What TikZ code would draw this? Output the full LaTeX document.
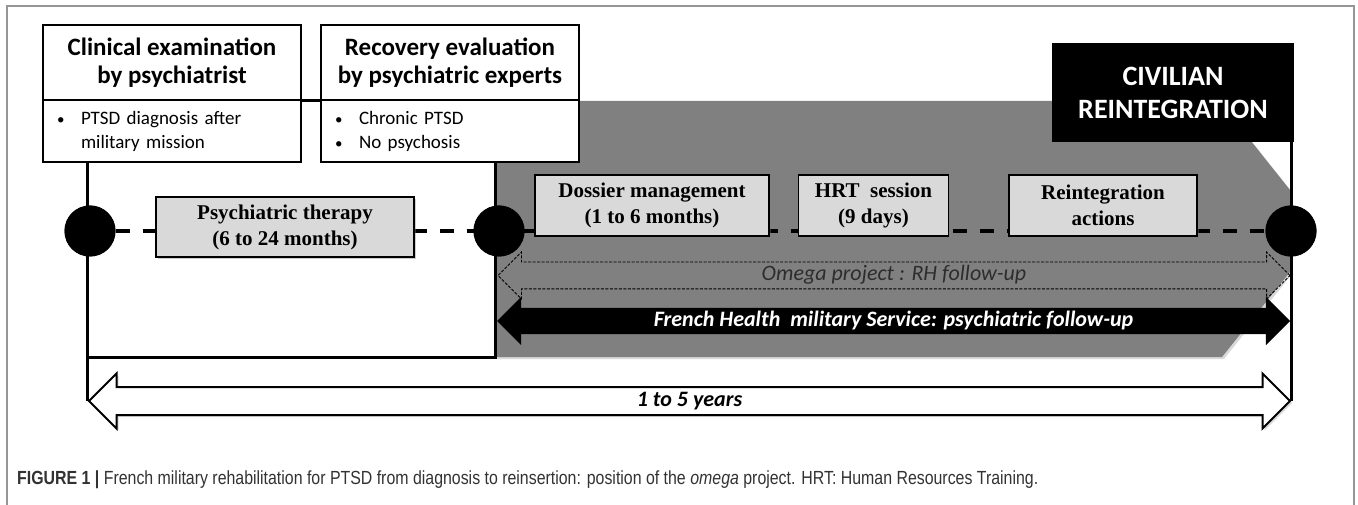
\documentclass[tikz,border=0pt]{standalone}
\usepackage{fontspec}
\usepackage{graphicx}
\setmainfont{Liberation Serif}
\newfontfamily\carlito{Carlito}
\newfontfamily\helv{Liberation Sans}
\usetikzlibrary{positioning,shapes.arrows,shadows}
\definecolor{framegray}{RGB}{150,150,150}
\definecolor{bandgray}{RGB}{128,128,128}
\definecolor{stepgray}{RGB}{217,217,217}
\definecolor{omegagray}{RGB}{45,45,45}
\definecolor{captext}{RGB}{50,50,50}
\newcommand{\dotitem}{\makebox[24pt][l]{\fontsize{15}{15}\selectfont\textbullet}}

\begin{document}
\begin{tikzpicture}[x=1pt,y=-1pt,
		headbox/.style={draw,line width=2pt,fill=white,minimum width=258pt,minimum height=75pt,inner sep=0pt,align=center,font=\carlito\bfseries\fontsize{25}{28}\selectfont},
		listbox/.style={draw,line width=2pt,fill=white,minimum width=258pt,minimum height=62pt,inner xsep=14pt,inner ysep=0pt,text width=230pt,align=left,font=\carlito\fontsize{19}{24}\selectfont},
		stepbox/.style={draw,line width=1.5pt,fill=stepgray,minimum height=61pt,inner sep=0pt,align=center,font=\bfseries\fontsize{21}{26}\selectfont,drop shadow={shadow xshift=2pt,shadow yshift=-2pt,opacity=.4}},
		milestone/.style={circle,fill=black,minimum size=51pt,inner sep=0pt},
		vline/.style={line width=3pt},
		timeline/.style={line width=4pt,dash pattern=on 14pt off 13pt},
		spanarrow/.style={double arrow,double arrow tip angle=90,inner xsep=0pt,inner ysep=4pt,text height=14pt,text depth=4pt},
	]
			%%%%% START %%%%%
			
			\useasboundingbox (0,0) rectangle (1358,505);
			\draw[framegray,line width=1.5pt] (7,506) -- (7,6) -- (1354,6) -- (1354,506);
			
			% grey band behind the reintegration phase
			\fill[bandgray,drop shadow={shadow xshift=2pt,shadow yshift=-2pt,opacity=.3}] (495,101) -- (1219,101) -- (1290,190) -- (1290,272) -- (1222,357) -- (495,357) -- cycle;
			
			\node[headbox,anchor=north west] (clin) at (42,24) {Clinical examination\\by psychiatrist};
			\node[listbox,below=-2pt of clin] (clinlist) {\dotitem PTSD diagnosis after\\\hspace*{24pt}military mission};
			\node[headbox,right=18pt of clin] (recov) {Recovery evaluation\\by psychiatric experts};
			\node[listbox,below=-2pt of recov] (recovlist) {\dotitem Chronic PTSD\\\dotitem No psychosis};
			\draw[vline] (clin.south east) -- (recov.south west);
			
			\node[fill=black,text=white,minimum width=242pt,minimum height=99pt,align=center,font=\carlito\bfseries\fontsize{28}{33}\selectfont] (civil) at (1173,92.5) {CIVILIAN\\REINTEGRATION};
			
			% spans
			\node[spanarrow,draw,line width=2pt,fill=white,minimum height=1201pt,double arrow head extend=13.5pt,font=\carlito\bfseries\itshape\fontsize{22}{24}\selectfont,drop shadow={shadow xshift=2pt,shadow yshift=-2pt,opacity=.3}] (years) at (689.5,401) {1 to 5 years};
			\node[spanarrow,draw,line width=0.8pt,dash pattern=on 3pt off 1.5pt,minimum height=792pt,double arrow head extend=10pt,text=omegagray,font=\carlito\itshape\fontsize{22}{24}\selectfont] (omega) at (894,275.5) {Omega project : RH follow-up};
			\node[spanarrow,fill=black,minimum height=793pt,double arrow head extend=11pt,text=white,font=\carlito\bfseries\itshape\fontsize{22}{24}\selectfont] (french) at (893.5,321) {French Health\ \ military Service: psychiatric follow-up};
			
			% frame lines
			\coordinate (corner) at (495,357);
			\draw[vline] (years.west |- clinlist.south) -- (years.west);
			\draw[vline] (recovlist.south -| corner) -- (corner) -- (corner -| years.west);
			\draw[vline] (civil.south -| years.east) -- (years.east);
			
			% timeline
			\node[milestone] (m1) at (90,231) {};
			\node[milestone] (m2) at (499,231) {};
			\node[milestone] (m3) at (1291,231) {};
			\draw[timeline] (m1) -- (m3);
			
			\node[stepbox,minimum width=258pt,minimum height=60pt] (therapy) at (285,227) {Psychiatric therapy\\(6 to 24 months)};
			\node[stepbox,minimum width=234pt] (dossier) at (652,205.5) {Dossier management\\(1 to 6 months)};
			\node[stepbox,minimum width=150pt,right=28pt of dossier] (hrt) {HRT\ \ session\\(9 days)};
			\node[stepbox,minimum width=188pt,right=59pt of hrt] (reint) {Reintegration\\actions};
			
			\node[milestone] at (m1) {};
			\node[milestone] at (m2) {};
			\node[milestone] at (m3) {};
			
			\node[anchor=west,inner sep=0pt,text=captext,font=\helv\fontsize{19}{22}\selectfont] (caption) at (17,480) {\resizebox{1021pt}{\height}{\textbf{FIGURE 1 |} French military rehabilitation for PTSD from diagnosis to reinsertion: position of the \textit{omega} project. HRT: Human Resources Training.}};
			
			%%%%% END %%%%%
\end{tikzpicture}
\end{document}
